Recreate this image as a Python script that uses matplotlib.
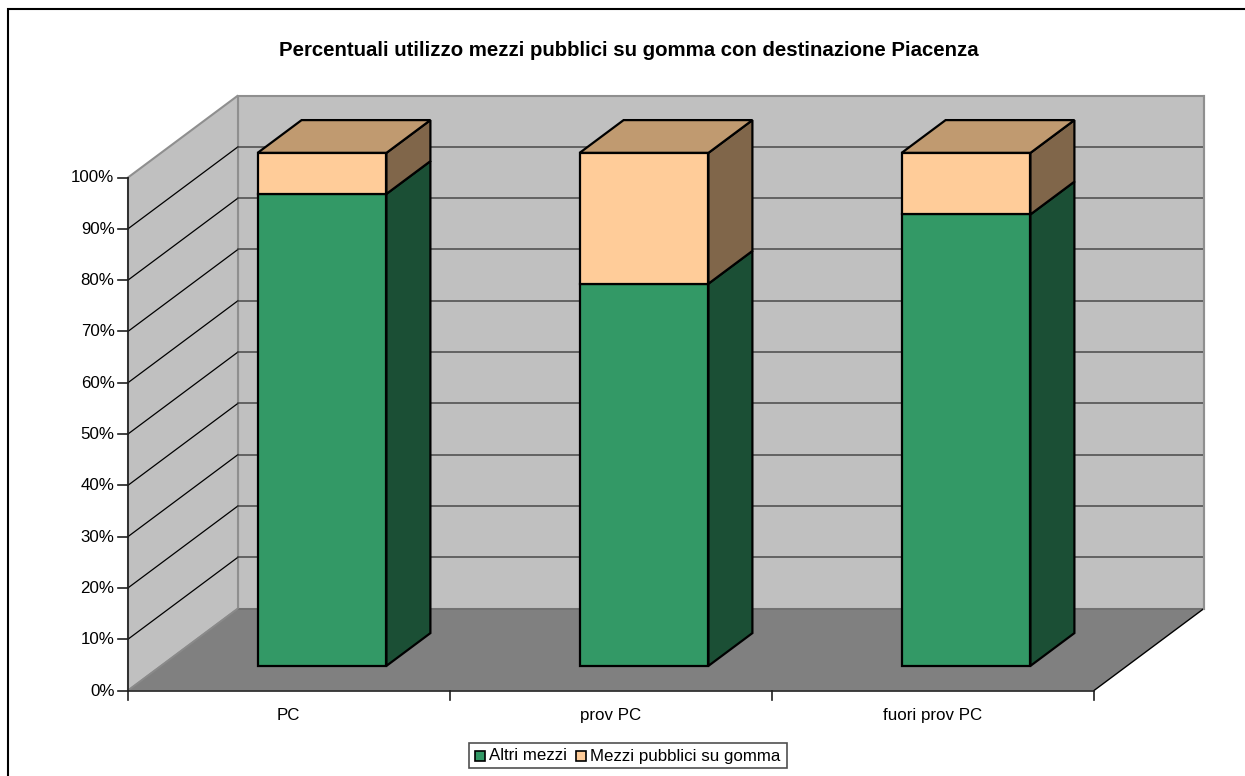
import matplotlib
matplotlib.use("Agg")
import matplotlib.pyplot as plt
from matplotlib.patches import Polygon, Rectangle

plt.rcParams["font.family"] = ["Liberation Sans", "DejaVu Sans"]

categorie = ["PC", "prov PC", "fuori prov PC"]
altri_mezzi = [92, 74.5, 88]
mezzi_gomma = [8, 25.5, 12]
tick_percent = [0, 10, 20, 30, 40, 50, 60, 70, 80, 90, 100]

W, H = 1245, 776
# vertici del box 3D in pixel
X0, X1 = 128, 1094
Y0, Y100 = 690.5, 177.5
DX, DY = 110, -82
# la colonna occupa il 40% della categoria e sta a meta' profondita'
LARG = 0.4
PROF_A, PROF_B = 0.30, 0.70

VERDE = ("#339966", "#1b4f35")
PESCA = ("#ffcc99", "#c09a70", "#80664a")


def punto(cat, val, prof=0.0):
    """categoria (0..n), valore percentuale, profondita' (0..1) -> pixel"""
    x = X0 + (X1 - X0) * cat / len(categorie)
    y = Y0 - (Y0 - Y100) * val / 100
    return x + DX * prof, y + DY * prof


def poly(ax, pts, fc, ec="none", lw=0.0, z=2):
    ax.add_patch(Polygon(pts, closed=True, facecolor=fc, edgecolor=ec, linewidth=lw,
                         joinstyle="miter", zorder=z))


def scatola(ax, cat, v0, v1, colori, top=None):
    a, b = cat + 0.5 - LARG / 2, cat + 0.5 + LARG / 2
    fronte = [punto(a, v0, PROF_A), punto(b, v0, PROF_A), punto(b, v1, PROF_A), punto(a, v1, PROF_A)]
    lato = [punto(b, v0, PROF_A), punto(b, v0, PROF_B), punto(b, v1, PROF_B), punto(b, v1, PROF_A)]
    poly(ax, lato, colori[-1], "black", 1.6, z=4)
    poly(ax, fronte, colori[0], "black", 1.6, z=5)
    if top:
        sopra = [punto(a, v1, PROF_A), punto(b, v1, PROF_A), punto(b, v1, PROF_B), punto(a, v1, PROF_B)]
        poly(ax, sopra, top, "black", 1.6, z=4)


fig = plt.figure(figsize=(W / 100, H / 100), dpi=100, facecolor="white")
ax = fig.add_axes([0, 0, 1, 1])
ax.set_xlim(0, W)
ax.set_ylim(H, 0)
ax.axis("off")

# cornice del grafico: solo sopra e a sinistra
ax.plot([8, 8, W], [H, 9, 9], color="black", lw=1.5, solid_joinstyle="miter", zorder=1)

# parete di fondo, parete laterale, pavimento
n = len(categorie)
poly(ax, [punto(0, 0, 1), punto(n, 0, 1), punto(n, 100, 1), punto(0, 100, 1)], "#c0c0c0", "#8f8f8f", 1.5)
poly(ax, [punto(0, 0), punto(0, 0, 1), punto(0, 100, 1), punto(0, 100)], "#c0c0c0", "#8f8f8f", 1.5)
poly(ax, [punto(0, 0), punto(n, 0), punto(n, 0, 1), punto(0, 0, 1)], "#808080", "none", 0)

# griglia su fondo e parete
for t in tick_percent[1:-1]:
    xa, ya = punto(0, t)
    xb, yb = punto(0, t, 1)
    xc, yc = punto(n, t, 1)
    ax.plot([xa, xb], [ya, yb], color="black", lw=0.9, zorder=3)
    ax.plot([xb, xc], [yb, yc], color="#484848", lw=1.1, zorder=3)

# bordi del pavimento
ax.plot(*zip(punto(0, 0, 1), punto(n, 0, 1)), color="#6e6e6e", lw=1.2, zorder=3)
ax.plot(*zip(punto(0, 0), punto(0, 0, 1)), color="#8a8a8a", lw=1.2, zorder=3)
ax.plot(*zip(punto(n, 0), punto(n, 0, 1)), color="black", lw=1.0, zorder=3)
ax.plot(*zip(punto(n, 0, 1), punto(n, 100, 1)), color="#8f8f8f", lw=1.5, zorder=3)

# colonne impilate
for i in range(n):
    scatola(ax, i, 0, altri_mezzi[i], VERDE)
    scatola(ax, i, altri_mezzi[i], altri_mezzi[i] + mezzi_gomma[i], (PESCA[0], PESCA[2]), top=PESCA[1])

# assi e tacche
ax.plot(*zip(punto(0, 0), punto(0, 100)), color="#202020", lw=1.2, zorder=6)
ax.plot(*zip(punto(0, 0), punto(n, 0)), color="#202020", lw=1.2, zorder=6)
for t in tick_percent:
    x, y = punto(0, t)
    ax.plot([x - 10, x], [y, y], color="#202020", lw=1.2, zorder=6)
    ax.text(x - 13.5, y + 0.5, f"{t}%", ha="right", va="center", fontsize=12.2, color="black")
for i in range(n + 1):
    x, y = punto(i, 0)
    ax.plot([x, x], [y, y + 9], color="#202020", lw=1.2, zorder=6)
for i, c in enumerate(categorie):
    x, y = punto(i + 0.5, 0)
    ax.text(x - 0.5, y + 25, c, ha="center", va="center", fontsize=12.2, color="black")

ax.text(628.5, 50.5, "Percentuali utilizzo mezzi pubblici su gomma con destinazione Piacenza",
        ha="center", va="center", fontsize=14.7, fontweight="bold", color="black")

# legenda
ax.add_patch(Rectangle((469, 743), 318, 25, facecolor="white", edgecolor="#505050", lw=1.2, zorder=6))
ax.add_patch(Rectangle((475, 751), 10, 10, facecolor=VERDE[0], edgecolor="black", lw=1.2, zorder=7))
ax.text(489, 756, "Altri mezzi", ha="left", va="center", fontsize=12.2, zorder=7)
ax.add_patch(Rectangle((576, 751), 10, 10, facecolor=PESCA[0], edgecolor="black", lw=1.2, zorder=7))
ax.text(590, 756, "Mezzi pubblici su gomma", ha="left", va="center", fontsize=12.2, zorder=7)

fig.savefig("out.png", dpi=100)
